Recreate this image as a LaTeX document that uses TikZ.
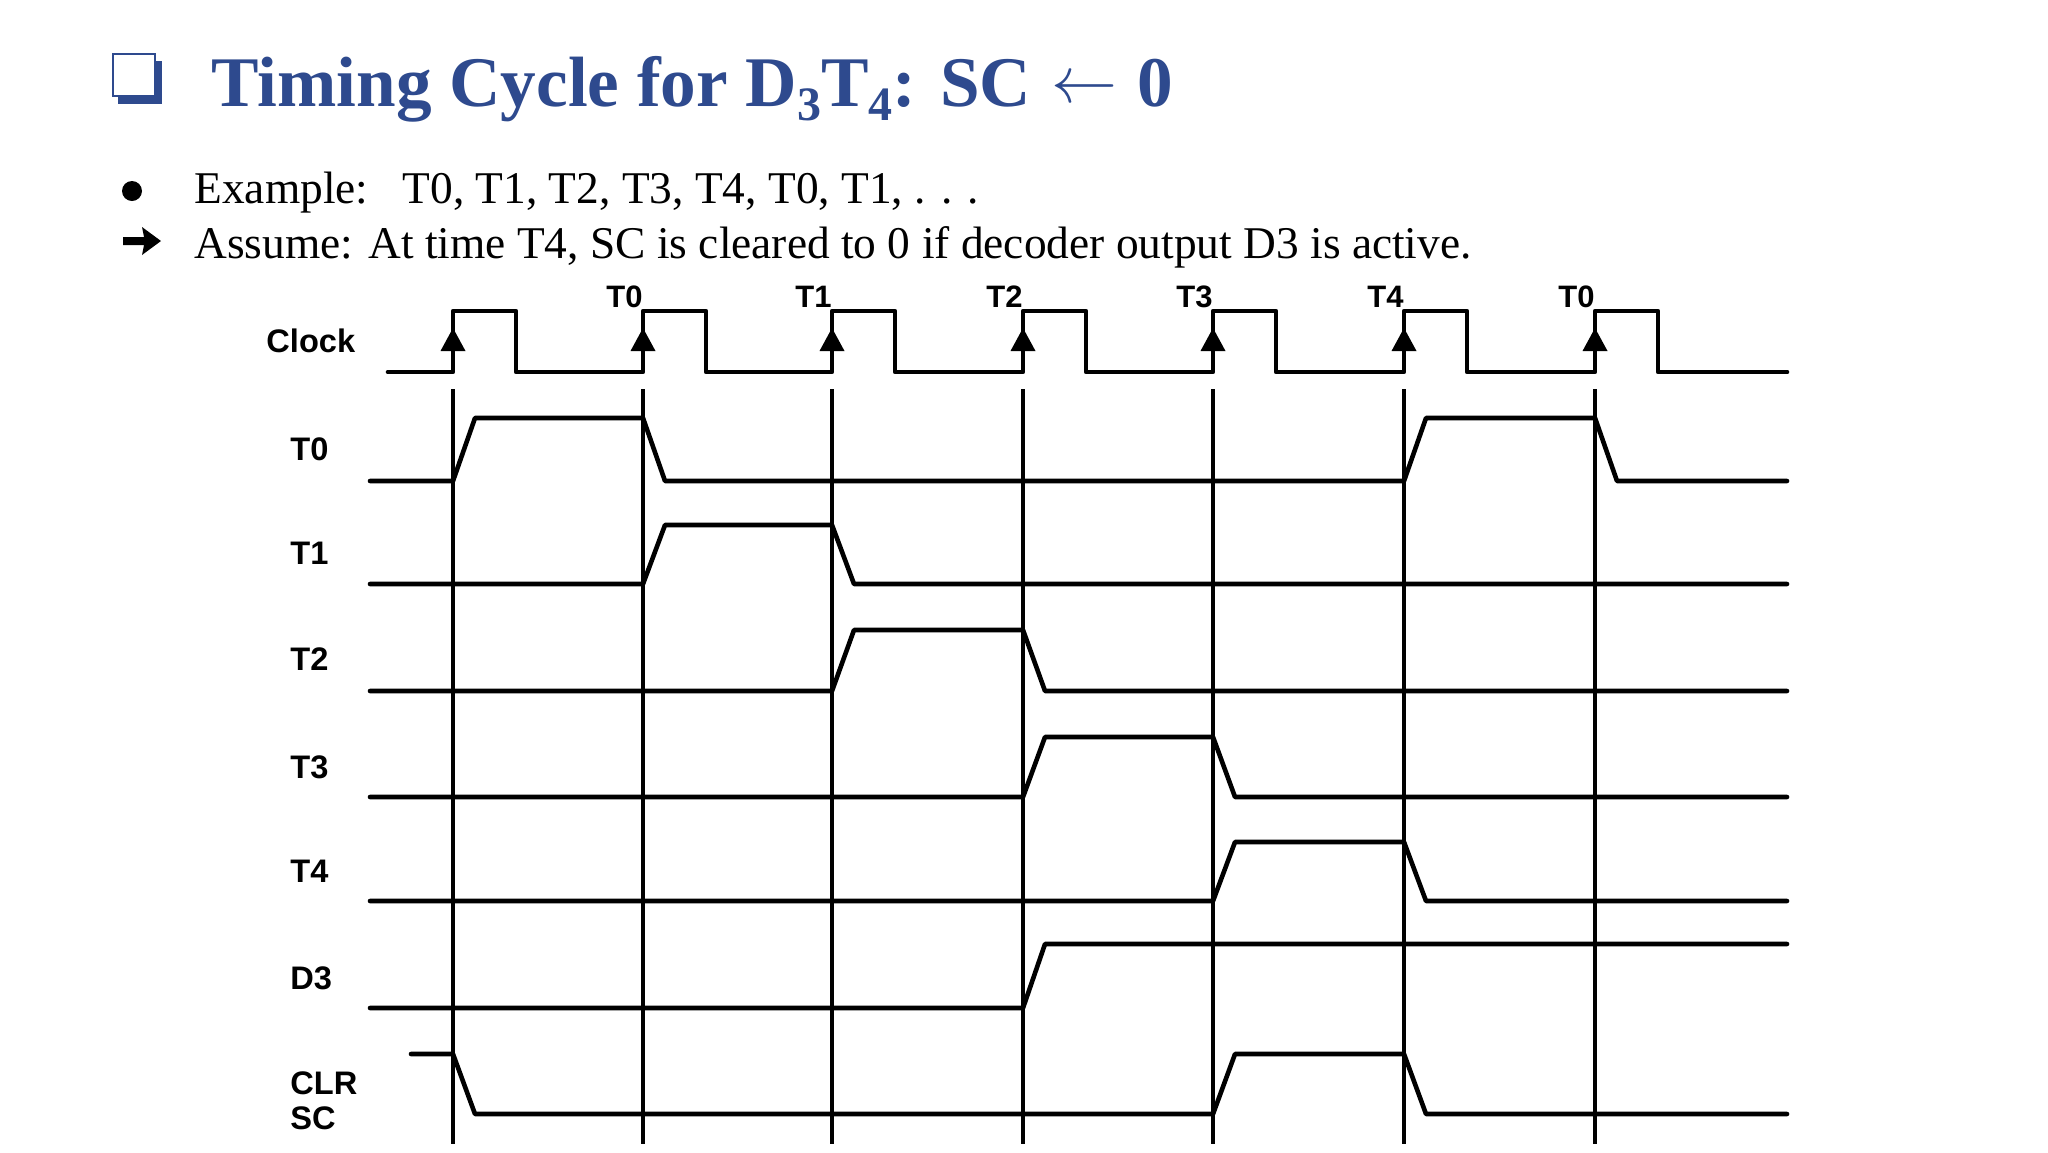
\documentclass[tikz,border=0pt]{standalone}
\usepackage{fontspec}
\usepackage{graphicx}
\setmainfont{Liberation Serif}
\newfontfamily\arialf{Liberation Sans}
\definecolor{titleblue}{HTML}{2E4A8E}
\newcommand{\subsz}[1]{\raisebox{-7pt}{\fontsize{24pt}{26pt}\selectfont #1}}
\newcommand{\bigleftarrow}{\raisebox{2pt}{\resizebox{33pt}{!}{$\leftarrow$}}}
\begin{document}
\begin{tikzpicture}[x=0.5pt,y=-0.5pt,
  sig/.style={line width=2.3pt, line join=round, line cap=round},
  gridline/.style={line width=1.6pt},
  lbl/.style={font=\arialf\bfseries\fontsize{16.3pt}{18pt}\selectfont, anchor=base west, inner sep=0pt},
  toplbl/.style={font=\arialf\bfseries\fontsize{15.5pt}{17pt}\selectfont, anchor=base east, inner sep=0pt},
  body/.style={font=\fontsize{22.7pt}{27pt}\selectfont, anchor=base west, inner sep=0pt}
]
\fill[white] (0,0) rectangle (2048,1152);
\useasboundingbox (0,0) rectangle (2048,1152);

% title icon
\fill[titleblue] (118,61) rectangle (162,104);
\draw[titleblue, fill=white, line width=0.9pt] (113,54) rectangle (155,96);
\node[anchor=base west, inner sep=0pt, text=titleblue, font=\bfseries\fontsize{35.6pt}{40pt}\selectfont] (title) at (211,106)
  {Timing Cycle for D\subsz{3}T\subsz{4}: SC\hspace{10pt}\bigleftarrow\hspace{10pt}0};

% bullets
\fill (132,191) circle (10);
\fill (123,237) -- (144,237) -- (142,227) -- (161,241) -- (142,255) -- (144,245) -- (123,245) -- cycle;
\node[body] (ex) at (194,203) {Example:\hspace{0.42em} T0, T1, T2, T3, T4, T0, T1, . . .};
\node[body] (as) at (194,258) {Assume: At time T4, SC is cleared to 0 if decoder output D3 is active.};

% labels
\node[lbl] (lclk) at (266,352) {Clock};
\node[lbl] (lt0) at (290,460) {T0};
\node[lbl] (lt1) at (290,564) {T1};
\node[lbl] (lt2) at (290,670) {T2};
\node[lbl] (lt3) at (290,778) {T3};
\node[lbl] (lt4) at (290,882) {T4};
\node[lbl] (ld3) at (290,989) {D3};
\node[lbl] (lclr) at (290,1094) {CLR};
\node[lbl] (lsc) at (290,1129) {SC};

% top labels
\node[toplbl] (c1) at (643,307) {T0};
\node[toplbl] (c2) at (832,307) {T1};
\node[toplbl] (c3) at (1023,307) {T2};
\node[toplbl] (c4) at (1213,307) {T3};
\node[toplbl] (c5) at (1404,307) {T4};
\node[toplbl] (c6) at (1595,307) {T0};

% vertical lines and clock edge arrows
\foreach \e in {453,643,832,1023,1213,1404,1595}{
  \draw[gridline] (\e,389) -- (\e,1144);
  \fill (\e,328) -- (\e-12.5,351) -- (\e+12.5,351) -- cycle;
}

% clock
\draw[sig] (388,372) -- (453,372) -- (453,311) -- (516,311) -- (516,372) -- (643,372) -- (643,311) -- (706,311) -- (706,372) -- (832,372) -- (832,311) -- (895,311) -- (895,372) -- (1023,372) -- (1023,311) -- (1086,311) -- (1086,372) -- (1213,372) -- (1213,311) -- (1276,311) -- (1276,372) -- (1404,372) -- (1404,311) -- (1467,311) -- (1467,372) -- (1595,372) -- (1595,311) -- (1658,311) -- (1658,372) -- (1787,372);

% T0
\draw[sig] (370,481) -- (453,481) -- (475,418) -- (643,418) -- (665,481) -- (1404,481) -- (1426,418) -- (1595,418) -- (1617,481) -- (1787,481);
% T1
\draw[sig] (370,584) -- (643,584) -- (665,525) -- (832,525) -- (854,584) -- (1787,584);
% T2
\draw[sig] (370,691) -- (832,691) -- (854,630) -- (1023,630) -- (1045,691) -- (1787,691);
% T3
\draw[sig] (370,797) -- (1023,797) -- (1045,737) -- (1213,737) -- (1235,797) -- (1787,797);
% T4
\draw[sig] (370,901) -- (1213,901) -- (1235,842) -- (1404,842) -- (1426,901) -- (1787,901);
% D3
\draw[sig] (370,1008) -- (1023,1008) -- (1045,944) -- (1787,944);
% CLR SC
\draw[sig] (411,1054) -- (453,1054) -- (475,1114) -- (1213,1114) -- (1235,1054) -- (1404,1054) -- (1426,1114) -- (1787,1114);
\end{tikzpicture}
\end{document}
